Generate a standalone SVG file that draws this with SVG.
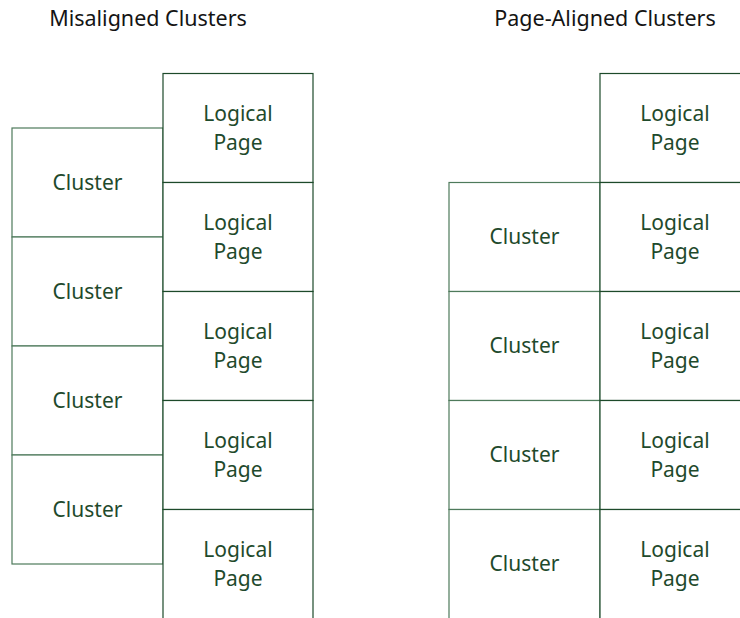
<svg xmlns="http://www.w3.org/2000/svg" width="740" height="618" viewBox="0 0 740 618">
  <style>
    .title { font-family: "Noto Sans", "Liberation Sans", sans-serif; font-size: 21.5px; fill: #141414; text-anchor: middle; }
    .lbl { font-family: "Noto Sans", "Liberation Sans", sans-serif; font-size: 21px; fill: #1f4a2c; text-anchor: middle; }
    .page { fill: #ffffff; stroke: #1d4a2a; stroke-width: 1.2; }
    .cluster { fill: #ffffff; stroke: #4e7a5b; stroke-width: 1.2; }
  </style>
  <rect width="740" height="618" fill="#ffffff"/>

  <!-- headings -->
  <text class="title" x="148" y="26">Misaligned Clusters</text>
  <text class="title" x="605" y="26">Page-Aligned Clusters</text>

  <!-- left: clusters offset from page boundaries -->
  <g id="mis-clusters">
    <g id="mis-cluster-1"><rect class="cluster" x="12" y="128" width="151" height="109"/><text class="lbl" x="87.5" y="190">Cluster</text></g>
    <g id="mis-cluster-2"><rect class="cluster" x="12" y="237" width="151" height="109"/><text class="lbl" x="87.5" y="299">Cluster</text></g>
    <g id="mis-cluster-3"><rect class="cluster" x="12" y="346" width="151" height="109"/><text class="lbl" x="87.5" y="408">Cluster</text></g>
    <g id="mis-cluster-4"><rect class="cluster" x="12" y="455" width="151" height="109"/><text class="lbl" x="87.5" y="517">Cluster</text></g>
  </g>
  <g id="mis-pages">
    <g id="mis-page-1"><rect class="page" x="163" y="73.5" width="150" height="109"/><text class="lbl" x="238" y="121">Logical</text><text class="lbl" x="238" y="150">Page</text></g>
    <g id="mis-page-2"><rect class="page" x="163" y="182.5" width="150" height="109"/><text class="lbl" x="238" y="230">Logical</text><text class="lbl" x="238" y="259">Page</text></g>
    <g id="mis-page-3"><rect class="page" x="163" y="291.5" width="150" height="109"/><text class="lbl" x="238" y="339">Logical</text><text class="lbl" x="238" y="368">Page</text></g>
    <g id="mis-page-4"><rect class="page" x="163" y="400.5" width="150" height="109"/><text class="lbl" x="238" y="448">Logical</text><text class="lbl" x="238" y="477">Page</text></g>
    <g id="mis-page-5"><rect class="page" x="163" y="509.5" width="150" height="120"/><text class="lbl" x="238" y="557">Logical</text><text class="lbl" x="238" y="586">Page</text></g>
  </g>

  <!-- right: clusters aligned to page boundaries -->
  <g id="al-clusters">
    <g id="al-cluster-1"><rect class="cluster" x="449" y="182.5" width="151" height="109"/><text class="lbl" x="524.5" y="244">Cluster</text></g>
    <g id="al-cluster-2"><rect class="cluster" x="449" y="291.5" width="151" height="109"/><text class="lbl" x="524.5" y="353">Cluster</text></g>
    <g id="al-cluster-3"><rect class="cluster" x="449" y="400.5" width="151" height="109"/><text class="lbl" x="524.5" y="462">Cluster</text></g>
    <g id="al-cluster-4"><rect class="cluster" x="449" y="509.5" width="151" height="120"/><text class="lbl" x="524.5" y="571">Cluster</text></g>
  </g>
  <g id="al-pages">
    <g id="al-page-1"><rect class="page" x="600" y="73.5" width="160" height="109"/><text class="lbl" x="675" y="121">Logical</text><text class="lbl" x="675" y="150">Page</text></g>
    <g id="al-page-2"><rect class="page" x="600" y="182.5" width="160" height="109"/><text class="lbl" x="675" y="230">Logical</text><text class="lbl" x="675" y="259">Page</text></g>
    <g id="al-page-3"><rect class="page" x="600" y="291.5" width="160" height="109"/><text class="lbl" x="675" y="339">Logical</text><text class="lbl" x="675" y="368">Page</text></g>
    <g id="al-page-4"><rect class="page" x="600" y="400.5" width="160" height="109"/><text class="lbl" x="675" y="448">Logical</text><text class="lbl" x="675" y="477">Page</text></g>
    <g id="al-page-5"><rect class="page" x="600" y="509.5" width="160" height="120"/><text class="lbl" x="675" y="557">Logical</text><text class="lbl" x="675" y="586">Page</text></g>
  </g>

  <g id="connectors"/>
</svg>
